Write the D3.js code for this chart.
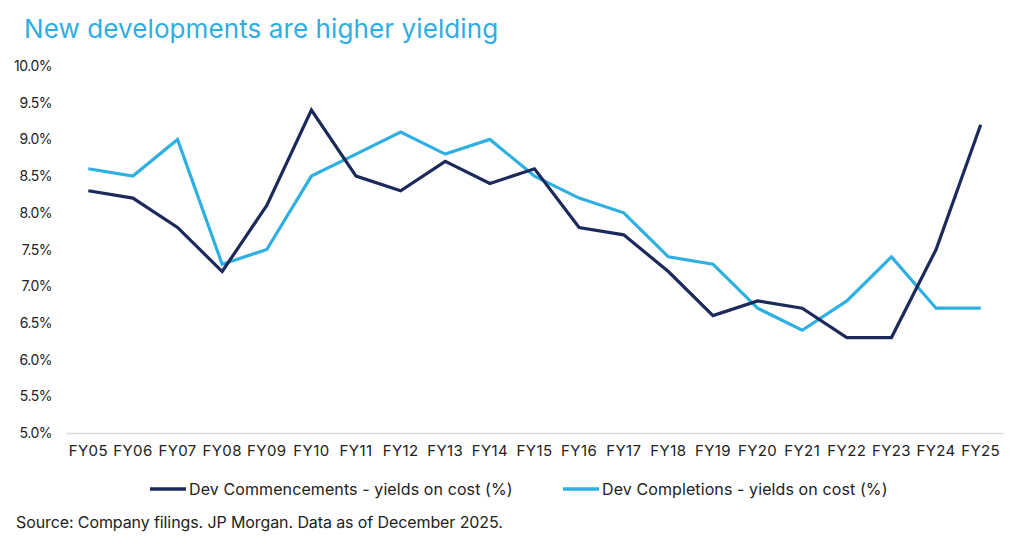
<!DOCTYPE html>
<html lang="en">
<head>
  <meta charset="UTF-8">
  <title>New developments are higher yielding</title>
  <script src="https://d3js.org/d3.v7.min.js"></script>
  <style>
    body { margin: 0; background: #fff; font-family: Inter, "Open Sans", sans-serif; }
  </style>
</head>
<body>
  <div id="chart"></div>
  <script>
    const years = ["FY05","FY06","FY07","FY08","FY09","FY10","FY11","FY12","FY13","FY14","FY15",
                   "FY16","FY17","FY18","FY19","FY20","FY21","FY22","FY23","FY24","FY25"];
    const commencements = [8.3, 8.2, 7.8, 7.2, 8.1, 9.4, 8.5, 8.3, 8.7, 8.4, 8.6,
                           7.8, 7.7, 7.2, 6.6, 6.8, 6.7, 6.3, 6.3, 7.5, 9.2];
    const completions = [8.6, 8.5, 9.0, 7.3, 7.5, 8.5, 8.8, 9.1, 8.8, 9.0, 8.5,
                         8.2, 8.0, 7.4, 7.3, 6.7, 6.4, 6.8, 7.4, 6.7, 6.7];
    const yTicks = [5.0, 5.5, 6.0, 6.5, 7.0, 7.5, 8.0, 8.5, 9.0, 9.5, 10.0];

    const width = 1023, height = 550;
    const navy = "#1b2a5a", sky = "#2fb0e2";

    const svg = d3.select("#chart").append("svg")
        .attr("width", width)
        .attr("height", height);

    const x = d3.scaleBand().domain(years).range([66, 1003]);
    const y = d3.scaleLinear().domain([5, 10]).range([433, 66]);

    // title
    svg.append("text")
      .attr("x", 24).attr("y", 38)
      .attr("fill", "#2eaee2")
      .attr("font-size", "26px")
      .attr("letter-spacing", "0.1px")
      .text("New developments are higher yielding");

    // y axis labels
    svg.append("g")
      .selectAll("text")
      .data(yTicks)
      .join("text")
      .attr("x", 52)
      .attr("y", d => y(d) + 5)
      .attr("text-anchor", "end")
      .attr("font-size", "14px")
      .attr("letter-spacing", "-0.5px")
      .attr("fill", "#222")
      .text(d => d.toFixed(1) + "%");

    // x axis
    const xAxis = svg.append("g")
      .attr("transform", `translate(0,${y(5)})`)
      .call(d3.axisBottom(x).tickSize(0).tickPadding(12));
    xAxis.select(".domain").attr("stroke", "#d9d9d9").attr("stroke-width", 1.3);
    xAxis.selectAll("text")
      .attr("font-family", "Inter, sans-serif")
      .attr("font-size", "15px")
      .attr("letter-spacing", "0.4px")
      .attr("fill", "#222");

    const line = d3.line()
      .x((d, i) => x(years[i]) + x.bandwidth() / 2)
      .y(d => y(d));

    svg.append("path")
      .datum(completions)
      .attr("fill", "none")
      .attr("stroke", sky)
      .attr("stroke-width", 3.2)
      .attr("d", line);

    svg.append("path")
      .datum(commencements)
      .attr("fill", "none")
      .attr("stroke", navy)
      .attr("stroke-width", 3.2)
      .attr("d", line);

    // legend
    const legend = [
      {label: "Dev Commencements - yields on cost (%)", color: navy, x: 150},
      {label: "Dev Completions - yields on cost (%)", color: sky, x: 563}
    ];
    const lg = svg.append("g").selectAll("g")
      .data(legend)
      .join("g")
      .attr("transform", d => `translate(${d.x},489)`);
    lg.append("line")
      .attr("x1", 0).attr("x2", 36)
      .attr("stroke", d => d.color)
      .attr("stroke-width", 3.5);
    lg.append("text")
      .attr("x", 39).attr("y", 5.5)
      .attr("font-size", "16px")
      .attr("letter-spacing", "0.1px")
      .attr("fill", "#222")
      .text(d => d.label);

    // source
    svg.append("text")
      .attr("x", 16).attr("y", 528)
      .attr("font-size", "16px")
      .attr("letter-spacing", "-0.1px")
      .attr("fill", "#222")
      .text("Source: Company filings. JP Morgan. Data as of December 2025.");
  </script>
</body>
</html>
